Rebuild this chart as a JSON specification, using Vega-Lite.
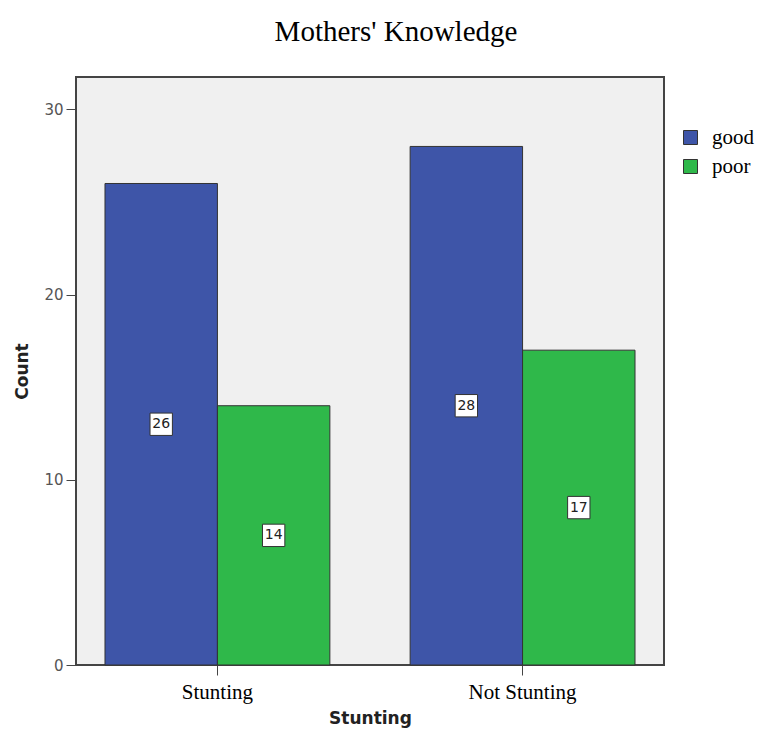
{
  "$schema": "https://vega.github.io/schema/vega-lite/v6.json",
  "autosize": {"type": "none"},
  "width": 588,
  "height": 588,
  "padding": {"left": 76, "top": 77, "right": 98, "bottom": 64},
  "background": "white",
  "title": {
    "text": "Mothers' Knowledge",
    "font": "Liberation Serif",
    "fontSize": 29,
    "fontWeight": "normal",
    "color": "#000",
    "anchor": "middle",
    "dx": 26,
    "offset": 30
  },
  "data": {
    "values": [
      {"stunting": "Stunting", "knowledge": "good", "count": 26},
      {"stunting": "Stunting", "knowledge": "poor", "count": 14},
      {"stunting": "Not Stunting", "knowledge": "good", "count": 28},
      {"stunting": "Not Stunting", "knowledge": "poor", "count": 17}
    ]
  },
  "encoding": {
    "x": {
      "field": "stunting",
      "type": "nominal",
      "sort": ["Stunting", "Not Stunting"],
      "scale": {"paddingInner": 0.263, "paddingOuter": 0.095},
      "axis": {
        "title": "Stunting",
        "titleFont": "DejaVu Sans",
        "titleFontSize": 17,
        "titleFontWeight": "bold",
        "titleColor": "#222",
        "titlePadding": 8,
        "labelFont": "Liberation Serif",
        "labelFontSize": 21,
        "labelColor": "#000",
        "labelAngle": 0,
        "labelPadding": 6,
        "tickSize": 10,
        "tickColor": "#444",
        "domain": false
      }
    },
    "xOffset": {"field": "knowledge", "type": "nominal", "scale": {"paddingInner": 0, "paddingOuter": 0}},
    "color": {
      "field": "knowledge",
      "type": "nominal",
      "scale": {"domain": ["good", "poor"], "range": ["#3e55a8", "#2fb84a"]},
      "legend": {
        "title": null,
        "orient": "none",
        "legendX": 604,
        "legendY": 50,
        "symbolType": "square",
        "symbolSize": 196,
        "symbolStrokeColor": "#333",
        "symbolStrokeWidth": 1,
        "labelFont": "Liberation Serif",
        "labelFontSize": 21,
        "labelColor": "#000",
        "rowPadding": 7,
        "labelOffset": 11
      }
    }
  },
  "layer": [
    {
      "mark": {"type": "bar", "stroke": "#333", "strokeWidth": 1, "opacity": 1},
      "encoding": {
        "y": {
          "field": "count",
          "type": "quantitative",
          "scale": {"domain": [0, 31.75], "nice": false},
          "axis": {
            "title": "Count",
            "titleFont": "DejaVu Sans",
            "titleFontSize": 17,
            "titleFontWeight": "bold",
            "titleColor": "#222",
            "titlePadding": 12,
            "labelFont": "DejaVu Sans",
            "labelFontSize": 15,
            "labelColor": "#555",
            "labelPadding": 3,
            "tickSize": 10,
            "tickColor": "#444",
            "values": [0, 10, 20, 30],
            "grid": false,
            "domain": false
          }
        }
      }
    },
    {
      "transform": [{"calculate": "datum.count / 2", "as": "mid"}],
      "mark": {"type": "point", "shape": "square", "filled": true, "fill": "white", "stroke": "#333", "strokeWidth": 1, "size": 500, "opacity": 1},
      "encoding": {
        "y": {"field": "mid", "type": "quantitative"},
        "color": {"value": "white"}
      }
    },
    {
      "transform": [{"calculate": "datum.count / 2", "as": "mid"}],
      "mark": {"type": "text", "font": "DejaVu Sans", "fontSize": 14, "fill": "#222", "baseline": "middle", "align": "center"},
      "encoding": {
        "y": {"field": "mid", "type": "quantitative"},
        "text": {"field": "count", "type": "quantitative"},
        "color": {"value": "#222"}
      }
    }
  ],
  "config": {
    "view": {"fill": "#f0f0f0", "stroke": "#444", "strokeWidth": 2}
  }
}
